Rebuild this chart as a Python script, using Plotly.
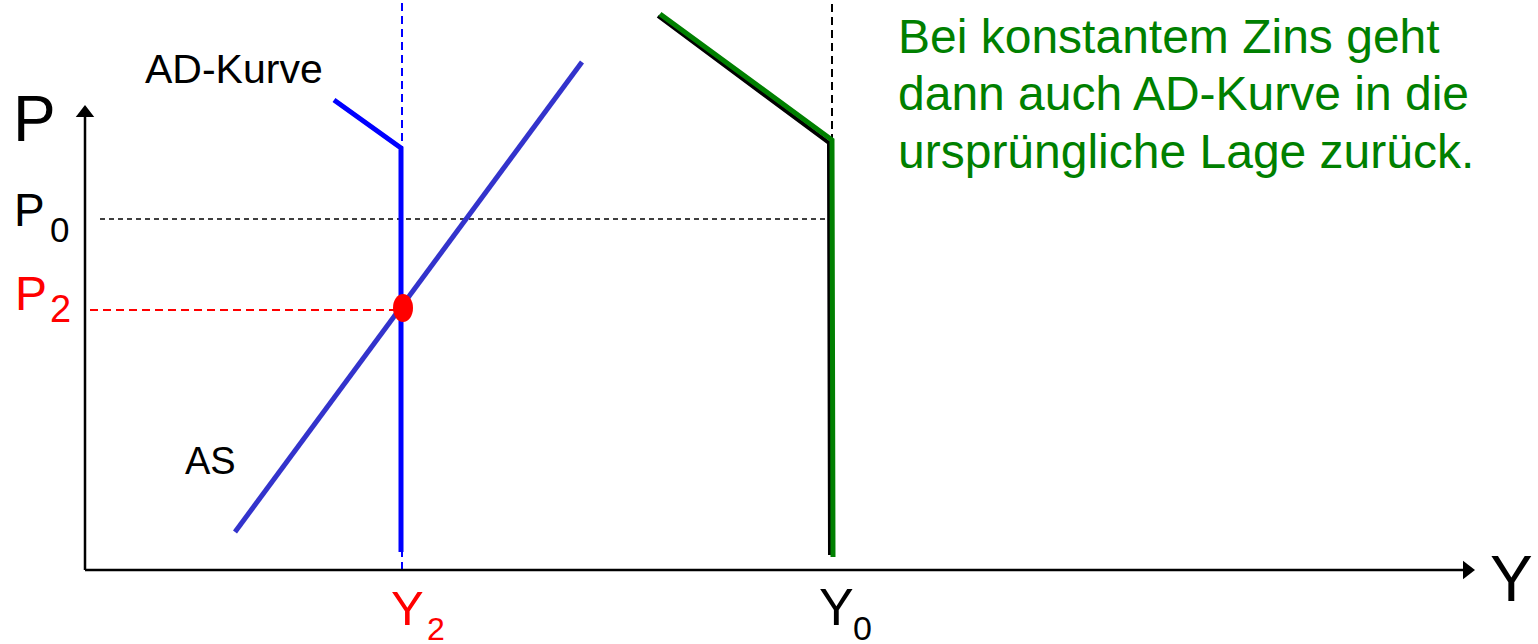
import plotly.graph_objects as go

# ---- data (model units: origin at the axes' crossing) ----
Y2 = 317
Y0 = 747
P0 = 351
P2 = 260

as_y = [150, 497]
as_p = [38, 508]

ad_new_y = [249, 316, 316]
ad_new_p = [470, 422, 18]

ad_old_y = [575, 747, 748]
ad_old_p = [556, 430, 13]
ad_shadow_y = [573, 744, 745]
ad_shadow_p = [554, 427, 15]

axis_y_end = 465
axis_x_end = 1390
top_p = 570

note_lines = ["Bei konstantem Zins geht",
              "dann auch AD-Kurve in die",
              "ursprüngliche Lage zurück."]

FONT = "Liberation Sans, Arial, sans-serif"
GREEN = "#008000"

fig = go.Figure()

# dashed guides
fig.add_trace(go.Scatter(x=[15, Y0], y=[P0, P0], mode="lines",
                         line=dict(color="black", width=1.5, dash="5px,4px"), hoverinfo="skip"))
fig.add_trace(go.Scatter(x=[5, Y2], y=[P2, P2], mode="lines",
                         line=dict(color="red", width=2, dash="8px,5px"), hoverinfo="skip"))
fig.add_trace(go.Scatter(x=[Y2, Y2], y=[0, top_p], mode="lines",
                         line=dict(color="blue", width=2, dash="8px,5px"), hoverinfo="skip"))
fig.add_trace(go.Scatter(x=[Y0, Y0], y=[ad_old_p[1] - 2, top_p], mode="lines",
                         line=dict(color="black", width=2, dash="8px,5px"), hoverinfo="skip"))

# axes
fig.add_trace(go.Scatter(x=[0, 0], y=[0, axis_y_end - 10], mode="lines",
                         line=dict(color="black", width=2.5), hoverinfo="skip"))
fig.add_trace(go.Scatter(x=[0, axis_x_end - 10], y=[0, 0], mode="lines",
                         line=dict(color="black", width=2.5), hoverinfo="skip"))
fig.add_trace(go.Scatter(x=[0], y=[axis_y_end - 8], mode="markers",
                         marker=dict(symbol="triangle-up", size=16, color="black"), hoverinfo="skip"))
fig.add_trace(go.Scatter(x=[axis_x_end - 8], y=[0], mode="markers",
                         marker=dict(symbol="triangle-right", size=16, color="black"), hoverinfo="skip"))

# AS curve
fig.add_trace(go.Scatter(x=as_y, y=as_p, mode="lines",
                         line=dict(color="#3333CC", width=5), hoverinfo="skip"))
# new AD curve
fig.add_trace(go.Scatter(x=ad_new_y, y=ad_new_p, mode="lines",
                         line=dict(color="#0000FF", width=5), hoverinfo="skip"))
# original AD curve (shadow + green)
fig.add_trace(go.Scatter(x=ad_shadow_y, y=ad_shadow_p, mode="lines",
                         line=dict(color="black", width=4), hoverinfo="skip"))
fig.add_trace(go.Scatter(x=ad_old_y, y=ad_old_p, mode="lines",
                         line=dict(color=GREEN, width=5), hoverinfo="skip"))

# equilibrium point
fig.add_shape(type="circle", xref="x", yref="y",
              x0=Y2 + 1 - 10, x1=Y2 + 1 + 10, y0=P2 + 2 - 14, y1=P2 + 2 + 14,
              fillcolor="red", line=dict(color="red", width=0))

ann = []
def txt(x, y, s, size, color="black"):
    ann.append(dict(x=x, y=y, text=s, showarrow=False, xanchor="left", yanchor="middle",
                    font=dict(family=FONT, size=size, color=color)))

# axis titles and tick-like labels (letter + separate subscript)
txt(-74, 451, "P", 64)
txt(-73, 360, "P", 46)
txt(-37, 341, "0", 35)
txt(-72, 277, "P", 48, "red")
txt(-37, 261.5, "2", 38, "red")
txt(1403, -9, "Y", 64)
txt(732, -37, "Y", 52)
txt(766, -57.5, "0", 34)
txt(304, -37.5, "Y", 49, "red")
txt(340, -58.5, "2", 32, "red")
txt(58, 500.6, "AD-Kurve", 41)
txt(98, 109, "AS", 38)
for i, line in enumerate(note_lines):
    txt(811, 534 - i * 57.5, line, 48, GREEN)

fig.update_layout(
    width=1538, height=644,
    margin=dict(l=0, r=0, t=0, b=0),
    paper_bgcolor="white", plot_bgcolor="white",
    showlegend=False,
    xaxis=dict(range=[-85, 1453], visible=False, fixedrange=True),
    yaxis=dict(range=[-74, 570], visible=False, fixedrange=True),
    annotations=ann,
)

fig.write_html("out.html", config={"displayModeBar": False},
               post_script="document.body.style.margin='0';document.body.style.overflow='hidden';")
